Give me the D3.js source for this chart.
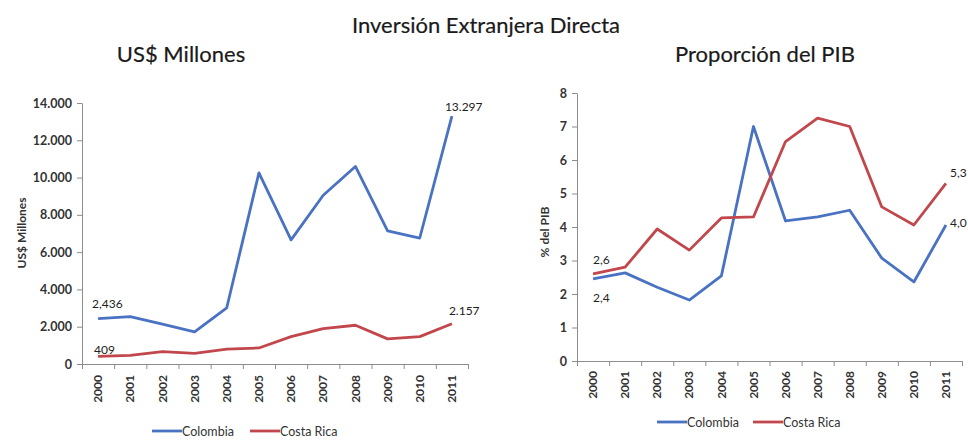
<!DOCTYPE html>
<html>
<head>
<meta charset="utf-8">
<script src="https://cdn.jsdelivr.net/npm/d3@7"></script>
<style>
  body { margin: 0; background: #fff; }
  text { font-family: Lato, "Open Sans", sans-serif; }
</style>
</head>
<body>
<svg width="968" height="440"></svg>
<script>
var years = ["2000","2001","2002","2003","2004","2005","2006","2007","2008","2009","2010","2011"];

// US$ millones
var colombiaUsd = [2436, 2542, 2134, 1720, 3016, 10252, 6656, 9049, 10596, 7137, 6758, 13297];
var costaRicaUsd = [409, 460, 660, 575, 794, 861, 1469, 1896, 2078, 1347, 1466, 2157];

// % del PIB
var colombiaPib = [2.45, 2.63, 2.2, 1.82, 2.54, 7.0, 4.18, 4.3, 4.5, 3.07, 2.36, 4.06];
var costaRicaPib = [2.6, 2.8, 3.94, 3.31, 4.27, 4.3, 6.55, 7.25, 7.0, 4.6, 4.06, 5.3];

var usdTicks = [0, 2000, 4000, 6000, 8000, 10000, 12000, 14000];
var pibTicks = [0, 1, 2, 3, 4, 5, 6, 7, 8];

var seriesNames = ["Colombia", "Costa Rica"];
var colors = ["#4a72c2", "#c2474c"];

var svg = d3.select("svg");
var esFormat = d3.formatLocale({decimal: ",", thousands: ".", grouping: [3], currency: ["$", ""]});

svg.append("text")
  .attr("x", 486).attr("y", 33)
  .attr("text-anchor", "middle")
  .attr("font-size", "22px")
  .attr("fill", "#1a1a1a")
  .attr("stroke", "#1a1a1a").attr("stroke-width", 0.2)
  .text("Inversión Extranjera Directa");

function drawChart(opt) {
  var x = d3.scaleBand().domain(years).range([opt.left, opt.right]).padding(0);
  var idx = d3.scaleLinear().domain([0, years.length]).range([opt.left, opt.right]);
  var y = d3.scaleLinear().domain([0, opt.max]).range([opt.bottom, opt.top]);

  svg.append("text")
    .attr("x", opt.titleX).attr("y", 62)
    .attr("text-anchor", "middle")
    .attr("font-size", "22px")
    .attr("fill", "#1a1a1a")
    .attr("stroke", "#1a1a1a").attr("stroke-width", 0.2)
    .text(opt.title);

  // y axis
  var ya = svg.append("g")
    .attr("transform", "translate(" + opt.left + ",0)")
    .call(d3.axisLeft(y).tickValues(opt.ticks).tickSize(5).tickSizeOuter(0).tickPadding(5).tickFormat(opt.fmt));
  ya.select(".domain").attr("stroke", "#8c8c8c");
  ya.selectAll(".tick line").attr("stroke", "#8c8c8c");
  ya.selectAll("text").attr("font-family", "Lato, sans-serif").attr("font-size", "12.5px").attr("font-weight", "bold").attr("fill", "#333");

  svg.append("text")
    .attr("transform", "translate(" + opt.yTitleX + "," + opt.yTitleY + ") rotate(-90)")
    .attr("text-anchor", "middle")
    .attr("font-size", "12px")
    .attr("font-weight", "bold")
    .attr("fill", "#333")
    .text(opt.yTitle);

  // x axis: tick marks between categories
  var xa = svg.append("g")
    .attr("transform", "translate(0," + opt.bottom + ")")
    .call(d3.axisBottom(idx).tickValues(d3.range(years.length + 1)).tickSize(5).tickSizeOuter(0).tickFormat(""));
  xa.select(".domain").attr("stroke", "#8c8c8c");
  xa.selectAll(".tick line").attr("stroke", "#8c8c8c");

  var xl = svg.append("g")
    .attr("transform", "translate(0," + opt.bottom + ")")
    .call(d3.axisBottom(x).tickSize(0));
  xl.select(".domain").remove();
  xl.selectAll("text")
    .attr("transform", "rotate(-90)")
    .attr("x", -opt.yearGap).attr("y", 0).attr("dy", "0.35em")
    .style("text-anchor", "end")
    .attr("font-family", "Lato, sans-serif")
    .attr("font-size", "12px")
    .attr("font-weight", "bold")
    .attr("fill", "#333");

  var line = d3.line()
    .x(function(d, i) { return x(years[i]) + x.bandwidth() / 2; })
    .y(function(d) { return y(d); });

  opt.series.forEach(function(s, k) {
    svg.append("path")
      .datum(s)
      .attr("d", line)
      .attr("fill", "none")
      .attr("stroke", colors[k])
      .attr("stroke-width", 2.8)
      .attr("stroke-linejoin", "round");
  });

  opt.labels.forEach(function(l) {
    svg.append("text")
      .attr("x", x(years[l.i]) + x.bandwidth() / 2 + l.dx)
      .attr("y", y(opt.series[l.s][l.i]) + l.dy)
      .attr("font-size", "12px")
      .attr("fill", "#222")
      .text(l.text);
  });

  // legend
  var lg = svg.append("g").attr("transform", "translate(0," + opt.legendY + ")");
  seriesNames.forEach(function(n, k) {
    lg.append("line")
      .attr("x1", opt.legendX[k]).attr("x2", opt.legendX[k] + 30)
      .attr("stroke", colors[k]).attr("stroke-width", 2.8);
    lg.append("text")
      .attr("x", opt.legendX[k] + 30).attr("y", 4.5)
      .attr("font-size", "12.5px")
      .attr("fill", "#333")
      .text(n);
  });
}

drawChart({
  left: 82, right: 468, top: 103, bottom: 364, max: 14000,
  ticks: usdTicks, fmt: esFormat.format(",d"),
  title: "US$ Millones", titleX: 181,
  yTitle: "US$ Millones", yTitleX: 26, yTitleY: 233,
  yearGap: 11,
  series: [colombiaUsd, costaRicaUsd],
  labels: [
    {s: 0, i: 0, dx: -6, dy: -10.5, text: "2,436"},
    {s: 1, i: 0, dx: -4, dy: -2, text: "409"},
    {s: 0, i: 11, dx: -7, dy: -5, text: "13.297"},
    {s: 1, i: 11, dx: -3, dy: -9, text: "2.157"}
  ],
  legendY: 431, legendX: [152, 250]
});

drawChart({
  left: 577, right: 962, top: 93, bottom: 361, max: 8,
  ticks: pibTicks, fmt: d3.format("d"),
  title: "Proporción del PIB", titleX: 765,
  yTitle: "% del PIB", yTitleX: 549, yTitleY: 232,
  yearGap: 10,
  series: [colombiaPib, costaRicaPib],
  labels: [
    {s: 1, i: 0, dx: 0, dy: -10, text: "2,6"},
    {s: 0, i: 0, dx: 0, dy: 23, text: "2,4"},
    {s: 1, i: 11, dx: 4, dy: -6, text: "5,3"},
    {s: 0, i: 11, dx: 4, dy: 2, text: "4,0"}
  ],
  legendY: 422, legendX: [657, 753]
});
</script>
</body>
</html>
